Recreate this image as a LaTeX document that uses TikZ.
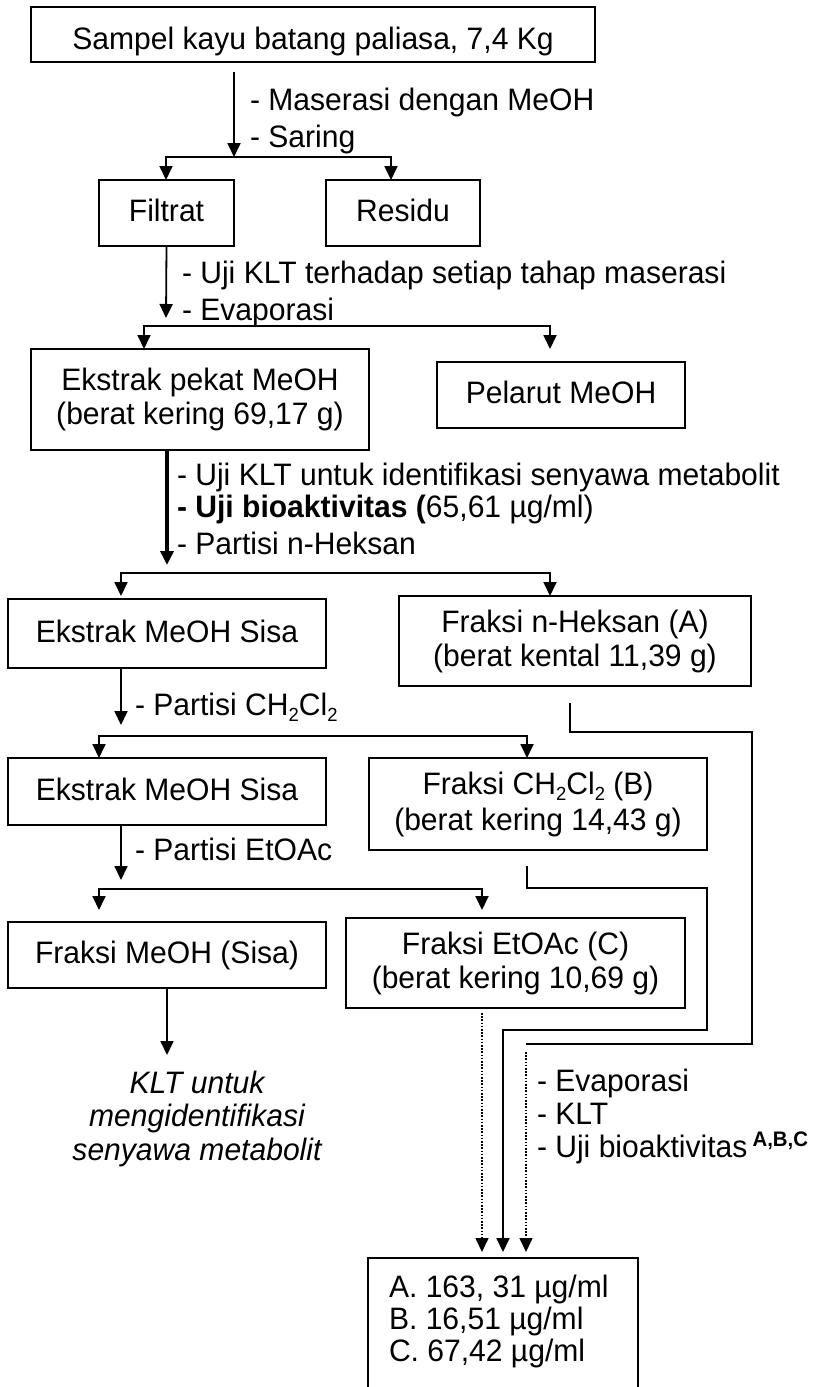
\documentclass[tikz,border=0pt]{standalone}
\usepackage{fontspec}
\setmainfont{Liberation Sans}[FakeStretch=0.97]
\usetikzlibrary{arrows.meta}
% small lowered index for chemical formulas
\newcommand\chsub[1]{\raisebox{-0.22em}{\fontsize{19pt}{19pt}\selectfont #1}}
\begin{document}
\begin{tikzpicture}[x=1pt,y=-1pt,
  every node/.style={inner sep=0pt, outer sep=0pt, font=\fontsize{31pt}{34pt}\selectfont},
  boxst/.style={draw, line width=1.8pt},
  oneline/.style={boxst, text height=22pt, text depth=5pt},
  conn/.style={line width=1.8pt},
  tip/.style={-{Triangle[length=14pt,width=13pt]}},
  arr/.style={conn, tip},
  heavy/.style={line width=3.6pt, tip},
  dots/.style={line width=1.6pt, dash pattern=on 1.6pt off 1.6pt, tip},
  lbl/.style={anchor=base west},
]
\useasboundingbox (0,0) rectangle (817,1387);
\fill[white] (0,0) rectangle (817,1387);
\clip (0,0) rectangle (817,1387);

% ---------- boxes ----------
\node[boxst, text height=30pt, text depth=1pt, minimum width=564pt, minimum height=55pt]
  (sampel) at (313,34.5) {Sampel kayu batang paliasa, 7,4 Kg};
\node[oneline, minimum width=135pt, minimum height=66pt] (filtrat) at (166.5,213) {Filtrat};
\node[oneline, minimum width=154pt, minimum height=66pt] (residu) at (403,213) {Residu};
\node[boxst, align=center, minimum width=338pt, minimum height=101pt]
  (ekstrak) at (200,399.5) {Ekstrak pekat MeOH\\(berat kering 69,17 g)};
\node[oneline, minimum width=248pt, minimum height=66pt] (pelarut) at (561,395) {Pelarut MeOH};
\node[oneline, minimum width=318pt, minimum height=69pt] (sisa1) at (167,633.5) {Ekstrak MeOH Sisa};
\node[boxst, align=center, minimum width=352pt, minimum height=90pt]
  (fraksiA) at (575,641) {Fraksi n-Heksan (A)\\(berat kental 11,39 g)};
\node[oneline, minimum width=318pt, minimum height=67pt] (sisa2) at (167,791.5) {Ekstrak MeOH Sisa};
\node[boxst, align=center, minimum width=338pt, minimum height=92pt]
  (fraksiB) at (538,804) {Fraksi CH\chsub{2}Cl\chsub{2} (B)\\[2pt](berat kering 14,43 g)};
\node[oneline, minimum width=318pt, minimum height=66pt] (fraksiM) at (167,955) {Fraksi MeOH (Sisa)};
\node[boxst, align=center, minimum width=339pt, minimum height=90pt]
  (fraksiC) at (515.5,963) {Fraksi EtOAc (C)\\(berat kering 10,69 g)};
\node[boxst, minimum width=270pt, minimum height=162pt] (hasil) at (503,1339) {};
\node[align=left, anchor=north west, font=\fontsize{31pt}{32pt}\selectfont]
  (hasiltxt) at (389,1275) {A. 163, 31 µg/ml\\B. 16,51 µg/ml\\C. 67,42 µg/ml};
\node[align=center, anchor=north, font=\fontsize{31pt}{33.5pt}\selectfont\itshape]
  (kltnote) at (197,1071) {KLT untuk\\mengidentifikasi\\senyawa metabolit};

% ---------- step labels ----------
\node[lbl] (m1) at (250,110) {- Maserasi dengan MeOH};
\node[lbl] (m2) at (250,147) {- Saring};
\node[lbl] (u1) at (182,283) {- Uji KLT terhadap setiap tahap maserasi};
\node[lbl] (u2) at (182,320) {- Evaporasi};
\node[lbl] (k1) at (177,485) {- Uji KLT untuk identifikasi senyawa metabolit};
\node[lbl] (k2) at (177,517) {\textbf{- Uji bioaktivitas (}65,61 µg/ml)};
\node[lbl] (k3) at (177,554) {- Partisi n-Heksan};
\node[lbl] (p1) at (135,715) {- Partisi CH\chsub{2}Cl\chsub{2}};
\node[lbl] (p2) at (135,860) {- Partisi EtOAc};
\node[lbl] (e1) at (537,1091) {- Evaporasi};
\node[lbl] (e2) at (537,1124) {- KLT};
\node[lbl] (e3) at (537,1157) {- Uji bioaktivitas\hspace{5pt}\raisebox{11pt}{\fontsize{21pt}{21pt}\selectfont\bfseries A,B,C}};

% ---------- junctions ----------
\coordinate (j1) at (234,157);
\coordinate (j1l) at (166,157);
\coordinate (j1r) at (391,157);
\coordinate (j2) at (166,326);
\coordinate (j2l) at (144,326);
\coordinate (j2r) at (550,326);
\coordinate (j3) at (167,573);
\coordinate (j3l) at (121,573);
\coordinate (j3r) at (550,573);
\coordinate (j4) at (121,736);
\coordinate (j4l) at (99,736);
\coordinate (j4r) at (527,736);
\coordinate (j5) at (121,889);
\coordinate (t5l) at (99,910);
\coordinate (t5r) at (482,910);
\coordinate (t6) at (167,1055);

% ---------- main flow ----------
\draw[arr, shorten <=10pt] (sampel.south -| j1) -- (j1);
\draw[arr] (j1) -| (j1l |- filtrat.north);
\draw[arr] (j1) -| (j1r |- residu.north);

\draw[arr] (filtrat.south) -- ([yshift=8pt]j2);
\draw[arr] (j2) -| (j2l |- ekstrak.north);
\draw[arr] (j2) -| (j2r |- ekstrak.north);

\draw[heavy] (ekstrak.south -| j3) -- ([yshift=8pt]j3);
\draw[arr] (j3) -| (j3l |- fraksiA.north);
\draw[arr] (j3) -| (j3r |- fraksiA.north);

\draw[arr] (sisa1.south -| j4) -- ([yshift=11pt]j4);
\draw[arr] (j4) -| (j4l |- sisa2.north);
\draw[arr] (j4) -| (j4r |- fraksiB.north);

\draw[arr] (sisa2.south -| j5) -- ([yshift=9pt]j5);
\draw[arr] (j5) -| (t5l);
\draw[arr] (j5) -| (t5r);

\draw[arr] (fraksiM.south) -- (t6);

% ---------- fractions to bioassay ----------
\coordinate (a0) at (570,703);
\coordinate (a2) at (752,732);
\coordinate (a4) at (526,1044);
\coordinate (a5) at (526,1052);
\coordinate (ta) at (526,1252);
\draw[conn] (a0) |- (a2) |- (a4);
\draw[dots] (a5) -- (ta);

\coordinate (b0) at (527,866);
\coordinate (b2) at (707,888);
\coordinate (b4) at (503,1030);
\coordinate (tb) at (503,1252);
\draw[arr] (b0) |- (b2) |- (b4) -- (tb);

\coordinate (c0) at (482,1013);
\coordinate (tc) at (482,1252);
\draw[dots] (c0) -- (tc);
\end{tikzpicture}
\end{document}
